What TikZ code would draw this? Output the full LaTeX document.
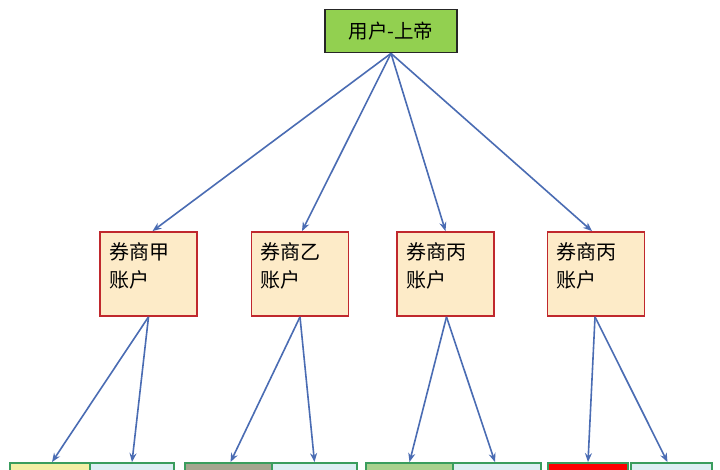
\documentclass[tikz,border=0pt]{standalone}
\usepackage{fontspec}
\newfontfamily\cjk{Noto Sans CJK SC}
\usetikzlibrary{arrows.meta}
\definecolor{topgreen}{HTML}{92D050}
\definecolor{acctfill}{HTML}{FDEBC8}
\definecolor{acctline}{HTML}{C0282D}
\definecolor{leafline}{HTML}{3A9D5D}
\definecolor{leafblue}{HTML}{DDEEF3}
\definecolor{leafyellow}{HTML}{F3EFA5}
\definecolor{leafgrey}{HTML}{A5A58F}
\definecolor{leafgreen}{HTML}{A9D18E}
\definecolor{linkblue}{HTML}{4A6CB3}
\tikzset{
  root/.style={draw=black!85, line width=1.8pt, fill=topgreen, minimum width=132, minimum height=43, inner sep=0pt, font=\cjk\fontsize{19.5}{20}\selectfont},
  acct/.style={draw=acctline, line width=1.8pt, fill=acctfill, minimum width=97, minimum height=84, inner sep=0pt},
  accttext/.style={align=left, inner sep=0pt, font=\cjk\fontsize{20}{28}\selectfont},
  leaf/.style={draw=leafline, line width=1.8pt, minimum height=26, inner sep=0pt},
  link/.style={draw=linkblue, line width=1.6pt, -{Stealth[length=9pt,width=7pt]}}
}
\begin{document}
\begin{tikzpicture}[x=1pt,y=-1pt]
\clip (0,0) rectangle (720,469);
\fill[white] (0,0) rectangle (720,469);
% the user on top
\node[root] (top) at (391,31) {用户-上帝};
% the broker accounts
\node[acct] (b1) at (148.5,274) {};
\node[acct] (b2) at (300,274) {};
\node[acct] (b3) at (445.5,274) {};
\node[acct] (b4) at (596,274) {};
\node[accttext, anchor=north west] (t1) at ([shift={(10,11)}]b1.north west) {券商甲\\账户};
\node[accttext, anchor=north west] (t2) at ([shift={(10,11)}]b2.north west) {券商乙\\账户};
\node[accttext, anchor=north west] (t3) at ([shift={(10,11)}]b3.north west) {券商丙\\账户};
\node[accttext, anchor=north west] (t4) at ([shift={(10,11)}]b4.north west) {券商丙\\账户};
% the leaves at the bottom (cut off)
\node[leaf, fill=leafyellow, minimum width=80] (c1a) at (50,476) {};
\node[leaf, fill=leafblue, minimum width=84] (c1b) at (132,476) {};
\node[leaf, fill=leafgrey, minimum width=87] (c2a) at (228.5,476) {};
\node[leaf, fill=leafblue, minimum width=85] (c2b) at (314.5,476) {};
\node[leaf, fill=leafgreen, minimum width=87] (c3a) at (409.5,476) {};
\node[leaf, fill=leafblue, minimum width=88] (c3b) at (497,476) {};
\node[leaf, fill=red, minimum width=80] (c4a) at (588,476) {};
\node[leaf, fill=leafblue, minimum width=81] (c4b) at (671.5,476) {};
% top arrows
\draw[link] (top.south) -- ([xshift=4]b1.north);
\draw[link] (top.south) -- ([xshift=2]b2.north);
\draw[link] (top.south) -- (b3.north);
\draw[link] (top.south) -- ([xshift=-4]b4.north);
% bottom arrows
\draw[link] (b1.south) -- ([xshift=2]c1a.north);
\draw[link] (b1.south) -- (c1b.north);
\draw[link] (b2.south) -- ([xshift=2]c2a.north);
\draw[link] (b2.south) -- (c2b.north);
\draw[link] ([xshift=1]b3.south) -- (c3a.north);
\draw[link] ([xshift=1]b3.south) -- ([xshift=-2]c3b.north);
\draw[link] ([xshift=-1]b4.south) -- (c4a.north);
\draw[link] ([xshift=-1]b4.south) -- ([xshift=-4]c4b.north);
\end{tikzpicture}
\end{document}
